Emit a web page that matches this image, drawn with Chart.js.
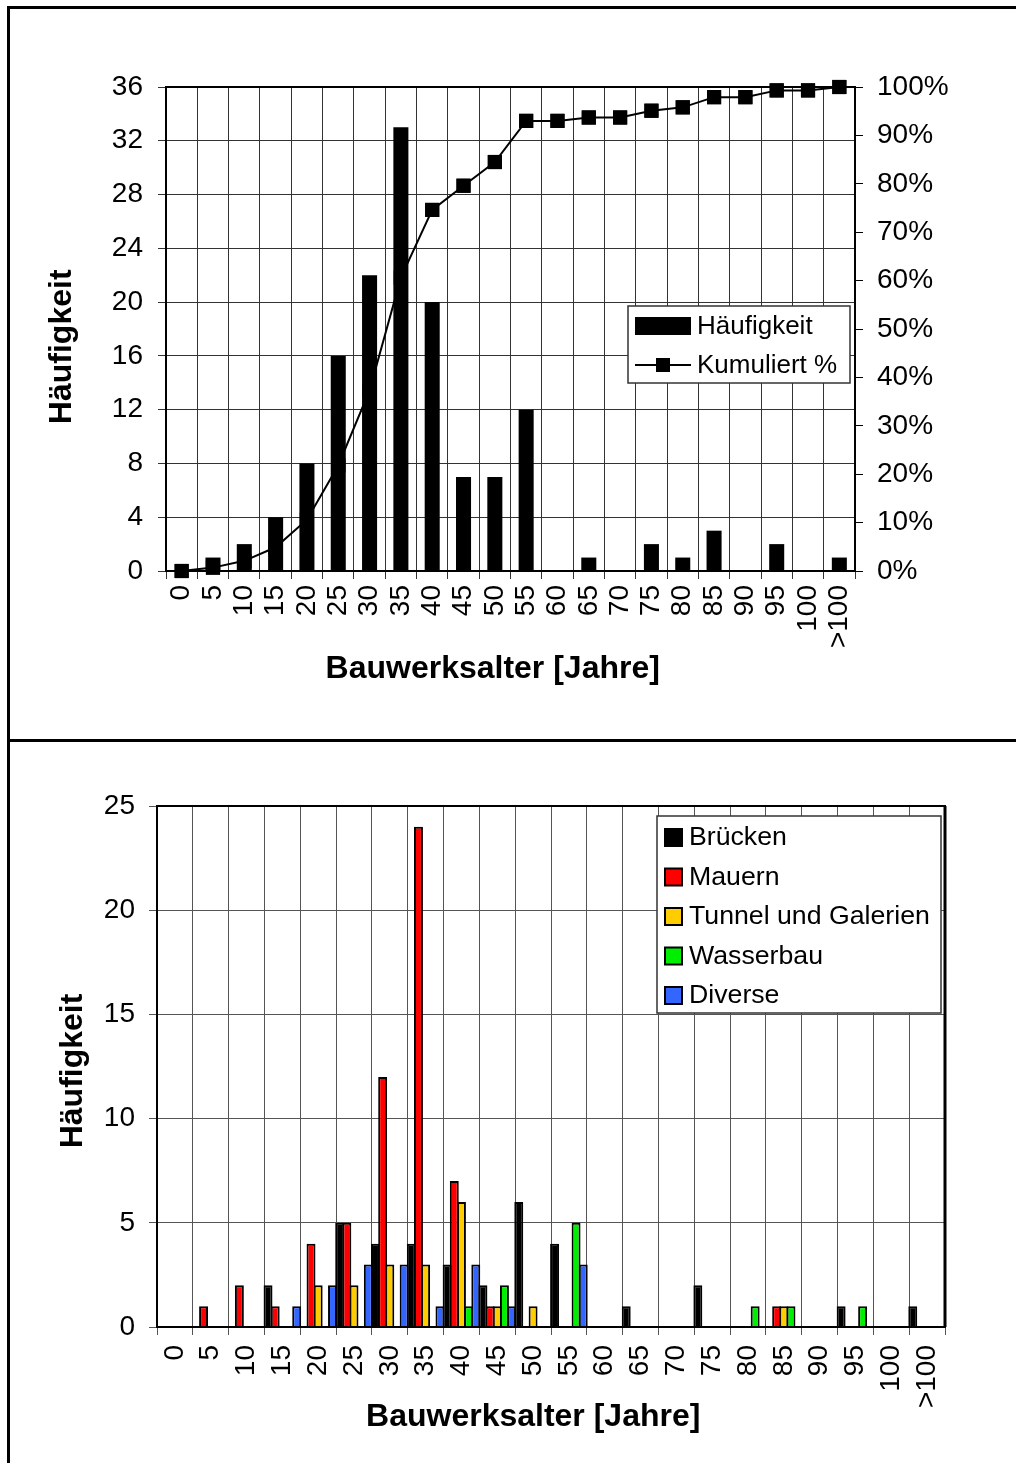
<!DOCTYPE html>
<html>
<head>
<meta charset="utf-8">
<script src="https://cdn.jsdelivr.net/npm/chart.js@4.4.1/dist/chart.umd.min.js"></script>
<style>
  body { margin: 0; background: #fff; width: 1016px; height: 1463px; overflow: hidden; position: relative; }
  #frame { position: absolute; left: 7px; top: 6px; width: 1030px; height: 1480px; border-left: 3px solid #000; border-top: 3px solid #000; }
  #divider { position: absolute; left: 7px; top: 739px; width: 1020px; height: 3px; background: #000; }
  canvas { position: absolute; left: 10px; }
  #top { top: 10px; }
  #bottom { top: 743px; }
</style>
</head>
<body>
<div id="frame"></div>
<div id="divider"></div>
<canvas id="top" width="1006" height="729"></canvas>
<canvas id="bottom" width="1006" height="720"></canvas>
<script>
// age classes (years)
const categories = ['0','5','10','15','20','25','30','35','40','45','50','55','60','65','70','75','80','85','90','95','100','>100'];

// top chart: frequency and cumulative share
const haeufigkeit = [0,1,2,4,8,16,22,33,20,7,7,12,0,1,0,2,1,3,0,2,0,1];
const kumuliert = [0,0.7,2.1,4.9,10.6,21.8,37.3,60.6,74.6,79.6,84.5,93.0,93.0,93.7,93.7,95.1,95.8,97.9,97.9,99.3,99.3,100];

// bottom chart: frequency per structure type
const bruecken  = [0,0,0,2,0,5,4,4,3,2,6,4,0,1,0,2,0,0,0,1,0,1];
const mauern    = [0,1,2,1,4,5,12,24,7,1,0,0,0,0,0,0,0,1,0,0,0,0];
const tunnel    = [0,0,0,0,2,2,3,3,6,1,1,0,0,0,0,0,0,1,0,0,0,0];
const wasserbau = [0,0,0,0,0,0,0,0,1,2,0,5,0,0,0,0,1,1,0,1,0,0];
const diverse   = [0,0,0,1,2,3,3,1,3,1,0,3,0,0,0,0,0,0,0,0,0,0];

const FONT = 'Liberation Sans';
Chart.defaults.font.family = FONT;
Chart.defaults.color = '#000';

const framePlugin = {
  id: 'frame',
  afterDatasetsDraw(chart, args, opts) {
    const a = chart.chartArea, ctx = chart.ctx;
    ctx.save();
    ctx.strokeStyle = '#000';
    ctx.lineWidth = 2;
    ctx.strokeRect(Math.round(a.left), Math.round(a.top), Math.round(a.right - a.left), Math.round(a.bottom - a.top));
    if (opts.rightWidth) {
      ctx.lineWidth = opts.rightWidth;
      ctx.beginPath();
      ctx.moveTo(Math.round(a.right), a.top);
      ctx.lineTo(Math.round(a.right), a.bottom);
      ctx.stroke();
    }
    ctx.restore();
  }
};

// line markers go on top of the frame, like in the original
const markersOnTop = {
  id: 'markersOnTop',
  afterDraw(chart) {
    chart.data.datasets.forEach(function (ds, i) {
      if (ds.type === 'line') chart.getDatasetMeta(i).data.forEach(function (p) { p.draw(chart.ctx); });
    });
  }
};

const boxLegend = {
  id: 'boxLegend',
  afterDraw(chart, args, o) {
    const ctx = chart.ctx;
    ctx.save();
    ctx.fillStyle = '#fff';
    ctx.fillRect(o.x, o.y, o.w, o.h);
    ctx.strokeStyle = '#333';
    ctx.lineWidth = 1.5;
    ctx.strokeRect(o.x, o.y, o.w, o.h);
    ctx.font = o.fontSize + 'px "' + FONT + '"';
    ctx.textBaseline = 'middle';
    o.order.forEach(function (di, i) {
      const ds = chart.data.datasets[di];
      const cy = o.firstY + i * o.step;
      if (o.kind === 'top') {
        if (ds.type === 'line') {
          ctx.strokeStyle = '#000';
          ctx.lineWidth = 2;
          ctx.beginPath();
          ctx.moveTo(o.x + 7, cy);
          ctx.lineTo(o.x + 63, cy);
          ctx.stroke();
          ctx.fillStyle = '#000';
          ctx.fillRect(o.x + 35 - 7, cy - 7, 14, 14);
        } else {
          ctx.fillStyle = '#000';
          ctx.fillRect(o.x + 7, cy - 9, 56, 18);
        }
        ctx.fillStyle = '#000';
        ctx.fillText(ds.label, o.x + 69, cy + 1);
      } else {
        ctx.fillStyle = ds.backgroundColor;
        ctx.fillRect(o.x + 8, cy - 8, 17, 17);
        ctx.strokeStyle = '#000';
        ctx.lineWidth = 2;
        ctx.strokeRect(o.x + 8, cy - 8, 17, 17);
        ctx.fillStyle = '#000';
        ctx.fillText(ds.label, o.x + 32, cy + 1);
      }
    });
    ctx.restore();
  }
};

const gridColor = '#333';
const titleFont = { family: FONT, size: 32, weight: 'bold' };
const tickFont = { family: FONT, size: 28 };

// ---------- top chart ----------
new Chart(document.getElementById('top').getContext('2d'), {
  type: 'bar',
  data: {
    labels: categories,
    datasets: [{
      type: 'bar',
      label: 'Häufigkeit',
      data: haeufigkeit,
      yAxisID: 'y',
      backgroundColor: '#000',
      borderWidth: 0,
      barPercentage: 0.48,
      categoryPercentage: 1,
      order: 2
    }, {
      type: 'line',
      label: 'Kumuliert %',
      data: kumuliert,
      yAxisID: 'y1',
      borderColor: '#000',
      borderWidth: 2,
      backgroundColor: '#000',
      pointStyle: 'rect',
      pointRadius: 10,
      pointBorderWidth: 0,
      tension: 0,
      clip: false,
      order: 1
    }]
  },
  options: {
    responsive: false,
    animation: false,
    devicePixelRatio: 1,
    layout: { padding: { top: 77, left: 0, right: 0, bottom: 0 } },
    plugins: {
      legend: { display: false },
      tooltip: { enabled: false },
      frame: {},
      boxLegend: { kind: 'top', x: 618, y: 296, w: 222, h: 77, firstY: 316, step: 39, fontSize: 26, order: [0, 1] }
    },
    scales: {
      x: {
        afterFit: function (s) { s.height = 168; },
        grid: { color: gridColor, lineWidth: 1, tickLength: 8, offset: true },
        border: { color: '#000', width: 2 },
        ticks: { font: tickFont, maxRotation: 90, minRotation: 90, autoSkip: false, padding: 6 },
        title: { display: true, text: 'Bauwerksalter [Jahre]    ', font: titleFont, padding: { top: 0, bottom: 51 } }
      },
      y: {
        position: 'left',
        min: 0, max: 36,
        afterFit: function (s) { s.width = 156; },
        grid: { color: gridColor, lineWidth: 1, tickLength: 8 },
        border: { color: '#000', width: 2 },
        ticks: { font: tickFont, stepSize: 4, padding: 15 },
        title: { display: true, text: 'Häufigkeit    ', font: titleFont, padding: { top: 33, bottom: 0 } }
      },
      y1: {
        position: 'right',
        min: 0, max: 100,
        afterFit: function (s) { s.width = 161; },
        grid: { drawOnChartArea: false, color: '#000', tickLength: 8 },
        border: { color: '#000', width: 2 },
        ticks: { font: tickFont, stepSize: 10, padding: 14, callback: function (v) { return v + '%'; } }
      }
    }
  },
  plugins: [framePlugin, markersOnTop, boxLegend]
});

// ---------- bottom chart ----------
function series(label, values, color) {
  return {
    label: label,
    data: values.map(function (v) { return v || null; }),
    backgroundColor: color,
    borderColor: '#000',
    borderWidth: 2,
    barPercentage: 1.25,
    categoryPercentage: 1
  };
}

new Chart(document.getElementById('bottom').getContext('2d'), {
  type: 'bar',
  data: {
    labels: categories,
    datasets: [
      series('Brücken', bruecken, '#000000'),
      series('Mauern', mauern, '#FF0000'),
      series('Tunnel und Galerien', tunnel, '#FFCC00'),
      series('Wasserbau', wasserbau, '#00EE00'),
      series('Diverse', diverse, '#3366FF')
    ]
  },
  options: {
    responsive: false,
    animation: false,
    devicePixelRatio: 1,
    layout: { padding: { top: 63, left: 0, right: 71, bottom: 0 } },
    plugins: {
      legend: { display: false },
      tooltip: { enabled: false },
      frame: { rightWidth: 3 },
      boxLegend: { kind: 'bottom', x: 647, y: 73, w: 284, h: 197, firstY: 94, step: 39.5, fontSize: 26.7, order: [0, 1, 2, 3, 4] }
    },
    scales: {
      x: {
        afterFit: function (s) { s.height = 136; },
        grid: { color: '#555', lineWidth: 1, tickLength: 8, offset: true },
        border: { color: '#000', width: 2 },
        ticks: { font: tickFont, maxRotation: 90, minRotation: 90, autoSkip: false, padding: 10 },
        title: { display: true, text: 'Bauwerksalter [Jahre]    ', font: titleFont, padding: { top: 0, bottom: 27 } }
      },
      y: {
        min: 0, max: 25,
        afterFit: function (s) { s.width = 147; },
        grid: { color: '#555', lineWidth: 1, tickLength: 8 },
        border: { color: '#000', width: 2 },
        ticks: { font: tickFont, stepSize: 5, padding: 14 },
        title: { display: true, text: 'Häufigkeit ', font: titleFont, padding: { top: 44, bottom: 0 } }
      }
    }
  },
  plugins: [framePlugin, boxLegend]
});
</script>
</body>
</html>
